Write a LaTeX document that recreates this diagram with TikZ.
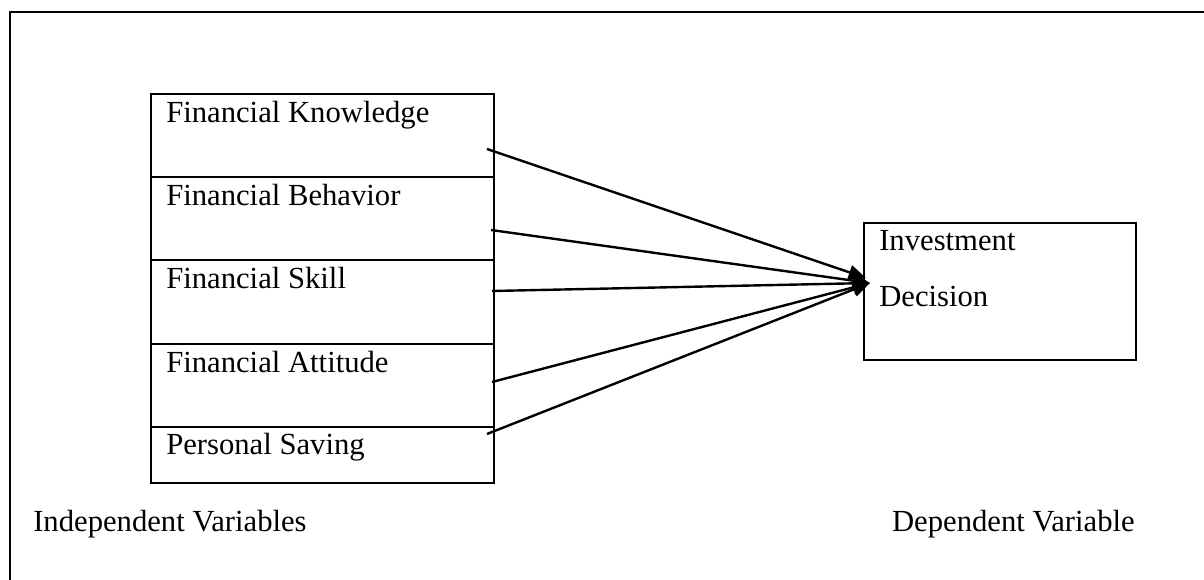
\documentclass[tikz,border=0pt]{standalone}
\usepackage{fontspec}
\setmainfont{Liberation Serif}
\usetikzlibrary{arrows.meta}
\begin{document}
\begin{tikzpicture}[x=0.75pt,y=-0.75pt,
  font=\fontsize{23}{27}\selectfont,
  rowbox/.style={draw,line width=1.7pt,anchor=north west,minimum width=343*0.75pt,inner sep=0pt},
  txt/.style={anchor=base west,inner sep=0pt},
  conn/.style={line width=1.8pt,-{Triangle[length=13pt,width=11pt]}}]
\useasboundingbox (0,0) rectangle (1204,580);
% outer frame (left and top only)
\draw[line width=2pt] (10,580) -- (10,12) -- (1204,12);
% independent variable rows
\node[rowbox,minimum height=83*0.75pt] (r1) at (150,93) {};
\node[rowbox,minimum height=83*0.75pt] (r2) at (150,176) {};
\node[rowbox,minimum height=84*0.75pt] (r3) at (150,259) {};
\node[rowbox,minimum height=83*0.75pt] (r4) at (150,343) {};
\node[rowbox,minimum height=56*0.75pt] (r5) at (150,426) {};
\node[txt] (t1) at (166,123) {Financial Knowledge};
\node[txt] (t2) at (166,206) {Financial Behavior};
\node[txt] (t3) at (166,289) {Financial Skill};
\node[txt] (t4) at (166,373) {Financial Attitude};
\node[txt] (t5) at (166,455) {Personal Saving};
% dependent variable box
\node[draw,line width=1.7pt,anchor=north west,minimum width=272*0.75pt,minimum height=137*0.75pt,inner sep=0pt] (inv) at (863,222) {};
\node[txt] (i1) at (879,251) {Investment};
\node[txt] (i2) at (879,307) {Decision};
% captions
\node[txt] (cap1) at (33,532) {Independent Variables};
\node[anchor=base east,inner sep=0pt] (cap2) at (1135,532) {Dependent Variable};
% connectors
\coordinate (s1) at (487,149);
\coordinate (s2) at (491,230);
\coordinate (s3) at (492,291);
\coordinate (s4) at (492,382);
\coordinate (s5) at (487,434);
\coordinate (e1) at (866,278);
\coordinate (e0) at (870,283);
\draw[conn] (s1) -- (e1);
\draw[conn] (s2) -- (e0);
\draw[conn] (s3) -- (e0);
\draw[conn] (s4) -- (e0);
\draw[conn] (s5) -- (e0);
\end{tikzpicture}
\end{document}
